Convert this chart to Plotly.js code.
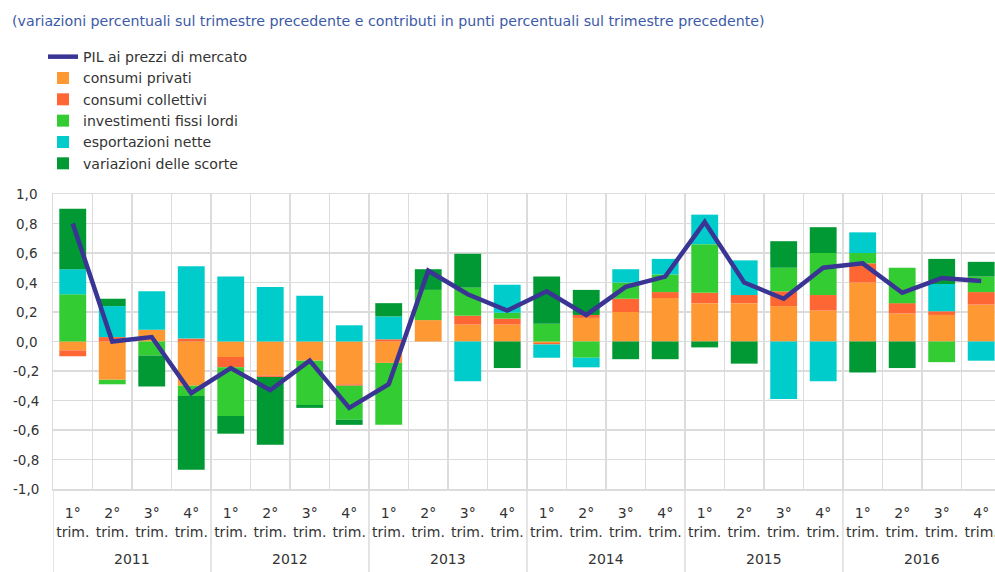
<!DOCTYPE html>
<html>
<head>
<meta charset="utf-8">
<script src="https://cdn.plot.ly/plotly-3.0.1.min.js"></script>
<style>
  html, body { margin: 0; padding: 0; background: #ffffff; overflow: hidden; }
  #chart { width: 995px; height: 572px; }
</style>
</head>
<body>
<div id="chart"></div>
<script>
// ---- data ----
const years = ['2011', '2012', '2013', '2014', '2015', '2016'];
const quarters = ['1°<br>trim.', '2°<br>trim.', '3°<br>trim.', '4°<br>trim.'];

const pil          = [0.80, 0.00, 0.03, -0.35, -0.18, -0.33, -0.13, -0.45, -0.29, 0.48, 0.32, 0.21, 0.34, 0.18, 0.37, 0.44, 0.81, 0.40, 0.29, 0.50, 0.53, 0.33, 0.43, 0.41];
const privati      = [-0.06, -0.26, 0.08, -0.30, -0.105, -0.23, -0.13, -0.29, -0.145, 0.145, 0.115, 0.115, -0.01, 0.16, 0.20, 0.295, 0.26, 0.26, 0.24, 0.21, 0.40, 0.19, 0.18, 0.25];
const collettivi   = [-0.04, 0.03, 0.00, 0.02, -0.07, -0.01, 0.00, -0.01, 0.015, 0.00, 0.06, 0.04, -0.01, 0.02, 0.09, 0.04, 0.07, 0.055, 0.10, 0.105, 0.13, 0.07, 0.025, 0.085];
const investimenti = [0.32, -0.03, -0.095, -0.07, -0.33, 0.00, -0.30, -0.23, -0.42, 0.205, 0.19, 0.04, 0.12, -0.11, 0.11, 0.12, 0.33, 0.00, 0.16, 0.285, 0.07, 0.24, -0.14, 0.105];
const esportazioni = [0.17, 0.21, 0.26, 0.49, 0.44, 0.37, 0.31, 0.11, 0.155, 0.00, -0.27, 0.19, -0.09, -0.065, 0.09, 0.105, 0.20, 0.235, -0.39, -0.27, 0.14, 0.00, 0.185, -0.13];
const scorte       = [0.41, 0.05, -0.21, -0.50, -0.12, -0.46, -0.02, -0.035, 0.09, 0.14, 0.23, -0.18, 0.32, 0.17, -0.12, -0.12, -0.04, -0.15, 0.18, 0.175, -0.21, -0.18, 0.17, 0.10];

const seriesNames = ['PIL ai prezzi di mercato', 'consumi privati', 'consumi collettivi', 'investimenti fissi lordi', 'esportazioni nette', 'variazioni delle scorte'];
const yTickVals = [-1, -0.8, -0.6, -0.4, -0.2, 0, 0.2, 0.4, 0.6, 0.8, 1];
const yTickText = ['-1,0', '-0,8', '-0,6', '-0,4', '-0,2', '0,0', '0,2', '0,4', '0,6', '0,8', '1,0'];
const subtitle = '(variazioni percentuali sul trimestre precedente e contributi in punti percentuali sul trimestre precedente)';

// ---- positions of the quarters on a numeric axis ----
const nQ = quarters.length;
const xIdx = [], xText = [];
years.forEach((y, yi) => quarters.forEach((q, qi) => { xIdx.push(yi * nQ + qi); xText.push(q); }));
const boundaries = xIdx.map(i => i - 0.5).concat([xIdx.length - 0.5]);

const colors = ['#3a3494', '#fd9833', '#fe6633', '#33cc33', '#00cccc', '#009933'];
const barSeries = [privati, collettivi, investimenti, esportazioni, scorte];

const traces = [{
  type: 'scatter', mode: 'lines', name: seriesNames[0], x: xIdx, y: pil,
  line: { color: colors[0], width: 4.5 }
}];
barSeries.forEach((s, i) => {
  traces.push({
    type: 'bar', name: seriesNames[i + 1], x: xIdx, y: s,
    marker: { color: colors[i + 1], line: { width: 0 } }
  });
});

const font = '"DejaVu Sans", Verdana, sans-serif';
const textCol = '#333333';
const gridCol = '#dcdcdc';

// plot area geometry (px) used only to place texts outside the plot
const L = 53, T = 194, B = 83, W = 995, H = 572;
const pw = W - L, ph = H - T - B;
const px2x = p => (p - L) / pw;
const py2y = p => (H - B - p) / ph;

const annotations = [{
  xref: 'paper', yref: 'paper', x: px2x(10), y: py2y(21),
  xanchor: 'left', yanchor: 'middle', showarrow: false,
  text: subtitle, font: { family: font, size: 14.2, color: '#3c5aa8' }
}];
yTickVals.forEach((v, i) => {
  annotations.push({
    xref: 'paper', yref: 'y', x: px2x(26), y: v,
    xanchor: 'center', yanchor: 'middle', showarrow: false,
    text: yTickText[i], font: { family: font, size: 13.5, color: textCol }
  });
});
// year labels centred under their four quarters
years.forEach((y, yi) => {
  annotations.push({
    xref: 'x', yref: 'paper', x: yi * nQ + (nQ - 1) / 2, y: py2y(559),
    xanchor: 'center', yanchor: 'middle', showarrow: false,
    text: y, font: { family: font, size: 14, color: textCol }
  });
});

// year dividers running from the axis down to the bottom edge
const shapes = [];
for (let yi = 0; yi <= years.length; yi++) {
  shapes.push({
    type: 'line', xref: 'x', yref: 'paper',
    x0: yi * nQ - 0.5, x1: yi * nQ - 0.5, y0: 0, y1: py2y(H),
    line: { color: gridCol, width: 1.5 }, layer: 'below'
  });
}

const layout = {
  width: W, height: H,
  margin: { l: L, r: 0, t: T, b: B, autoexpand: false },
  paper_bgcolor: '#ffffff', plot_bgcolor: '#ffffff',
  barmode: 'relative', bargap: 0.32,
  font: { family: font, size: 14, color: textCol },
  showlegend: true,
  legend: {
    xref: 'paper', yref: 'paper', x: px2x(43), y: py2y(41),
    xanchor: 'left', yanchor: 'top', traceorder: 'normal',
    font: { family: font, size: 14.1, color: textCol },
    bgcolor: 'rgba(0,0,0,0)', itemwidth: 30, tracegroupgap: 0
  },
  xaxis: {
    type: 'linear', range: [-0.5, 23.35], tickangle: 0,
    tickvals: xIdx, ticktext: xText, ticklabeloverflow: 'allow',
    showgrid: false, zeroline: false,
    minor: { tickvals: boundaries, showgrid: true, gridcolor: gridCol, gridwidth: 1.5, ticks: '' },
    ticks: '', ticklabelstandoff: 11,
    showline: true, linecolor: gridCol, linewidth: 1.5, mirror: true,
    tickfont: { family: font, size: 14, color: textCol },
    fixedrange: true
  },
  yaxis: {
    range: [-1, 1], tickvals: yTickVals,
    showticklabels: false,
    showgrid: true, gridcolor: gridCol, gridwidth: 1.5,
    zeroline: false, showline: true, linecolor: gridCol, linewidth: 1.5, ticks: '',
    fixedrange: true
  },
  shapes: shapes,
  annotations: annotations
};

Plotly.newPlot('chart', traces, layout, { displayModeBar: false, staticPlot: true });
</script>
</body>
</html>
